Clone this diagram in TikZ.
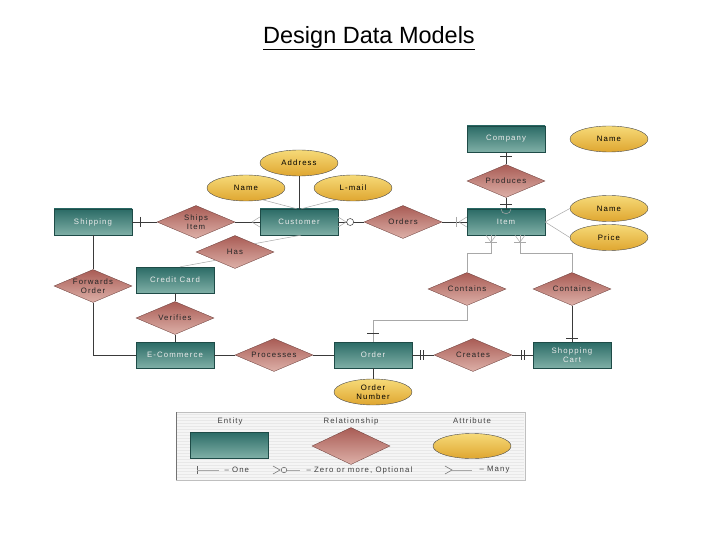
\documentclass[tikz,border=0pt]{standalone}
\usepackage{fontspec}
\setmainfont{Liberation Sans}
\newfontfamily\spacedfont[LetterSpace=14]{Liberation Sans}
\usetikzlibrary{shapes.geometric,calc}
\definecolor{entTop}{HTML}{2B6B66}
\definecolor{entBot}{HTML}{7FAFA6}
\definecolor{relTop}{HTML}{A95C55}
\definecolor{relBot}{HTML}{DDB0A8}
\definecolor{attTop}{HTML}{F6DA78}
\definecolor{attBot}{HTML}{DFA630}
\definecolor{lineDark}{HTML}{3A3A3A}
\definecolor{lineLight}{HTML}{A8A8A8}
\tikzset{
  lab/.style={font=\spacedfont\fontsize{7.8}{8.8}\selectfont, align=center},
  entity/.style={lab, rectangle, minimum width=78pt, minimum height=26pt, inner sep=0pt,
     top color=entTop, bottom color=entBot, draw=entTop!70!black, line width=0.3pt, text=white!92!black},
  rel/.style={lab, diamond, aspect=2.4, minimum width=78pt, minimum height=33pt, inner sep=0pt,
     top color=relTop, bottom color=relBot, draw=relTop!60!black, line width=0.3pt, text=black!85},
  attr/.style={lab, ellipse, minimum width=78pt, minimum height=26pt, inner sep=0pt,
     top color=attTop, bottom color=attBot, draw=black!70, line width=0.4pt, text=black},
  dk/.style={draw=lineDark, line width=0.6pt},
  lt/.style={draw=lineLight, line width=0.5pt},
}
\begin{document}
\begin{tikzpicture}[x=1pt,y=-1pt]
\useasboundingbox (0,0) rectangle (720,540);
\fill[white] (0,0) rectangle (720,540);
% title
\node[font=\fontsize{23.5}{25}\selectfont, inner sep=0pt] (title) at (369,38) {\underline{Design Data Models}};

% entities
\node[entity] (company) at (506,139) {Company};
\node[entity] (shipping) at (93,222) {Shipping};
\node[entity] (customer) at (299,222) {Customer};
\node[entity] (item) at (506,222) {Item};
\node[entity] (credit) at (175,280) {Credit Card};
\node[entity] (ecom) at (175,355) {E-Commerce};
\node[entity] (order) at (373,355) {Order};
\node[entity] (cart) at (572,355) {Shopping\\Cart};

% attributes
\node[attr] (cname) at (609,139) {Name};
\node[attr] (address) at (299,163) {Address};
\node[attr] (custname) at (246,188) {Name};
\node[attr] (email) at (353,188) {L-mail};
\node[attr] (iname) at (609,208.5) {Name};
\node[attr] (price) at (609,237.5) {Price};
\node[attr] (onum) at (373,392) {Order\\Number};

% relationships
\node[rel] (produces) at (506,181) {Produces};
\node[rel] (ships) at (196,222) {Ships\\Item};
\node[rel] (orders) at (403,222) {Orders};
\node[rel] (has) at (235,252) {Has};
\node[rel] (forwards) at (93,286) {Forwards\\Order};
\node[rel] (contains1) at (467,289) {Contains};
\node[rel] (contains2) at (572,289) {Contains};
\node[rel] (verifies) at (175,318) {Verifies};
\node[rel] (processes) at (274,355) {Processes};
\node[rel] (creates) at (473,355) {Creates};

% connectors
\path[dk] (company.south) -- (produces.north);
\path[dk] ($(company.south)+(-6,4)$) -- ++(12,0);
\path[dk] (produces.south) -- (item.north);
\path[dk] ($(item.north)+(-6,-5)$) -- ++(12,0);
\path[lt] ($(item.north)+(-5,0)$) arc[start angle=180, end angle=0, radius=5];

\path[dk] (shipping.east) -- (ships.west);
\path[dk] ($(shipping.east)+(8,-5)$) -- ++(0,10);
\path[dk] (ships.east) -- (customer.west);
\path[lt] ($(customer.west)+(-8,0)$) -- ($(customer.west)+(0,-5)$)
          ($(customer.west)+(-8,0)$) -- ($(customer.west)+(0,5)$);

\path[dk] (customer.east) -- (orders.west);
\path[lt] ($(customer.east)+(8,0)$) -- ($(customer.east)+(0,-5)$)
          ($(customer.east)+(8,0)$) -- ($(customer.east)+(0,5)$);
\path[draw=lineDark, fill=white, line width=0.5pt] ($(customer.east)+(12,0)$) circle[radius=3.5];

\path[dk] (orders.east) -- (item.west);
\path[lt] ($(item.west)+(-11,-5)$) -- ++(0,10);
\path[lt] ($(item.west)+(-8,0)$) -- ($(item.west)+(0,-5)$)
          ($(item.west)+(-8,0)$) -- ($(item.west)+(0,5)$);

\path[lt] (item.east) -- (iname.west);
\path[lt] (item.east) -- (price.west);

\path[dk] (address.south) -- (customer.north);
\path[lt] (custname.-35) -- ($(customer.north)+(-2,0)$);
\path[lt] (email.-145) -- ($(customer.north)+(2,0)$);

\path[lt] ($(customer.south)+(2,0)$) -- (has.north east);
\path[lt] (has.south west) -- ($(credit.north)+(5,0)$);

\path[dk] (shipping.south) -- (forwards.north);
\coordinate (fwdcorner) at (forwards.south |- ecom.west);
\path[dk] (forwards.south) -- (fwdcorner) -- (ecom.west);

\path[dk] (credit.south) -- (verifies.north);
\path[dk] (verifies.south) -- (ecom.north);
\path[dk] (ecom.east) -- (processes.west);
\path[dk] (processes.east) -- (order.west);

\path[dk] (order.east) -- (creates.west);
\path[dk] ($(order.east)+(8,-5)$) -- ++(0,10) ($(order.east)+(11,-5)$) -- ++(0,10);
\path[dk] (creates.east) -- (cart.west);
\path[dk] ($(cart.west)+(-12,-5)$) -- ++(0,10) ($(cart.west)+(-9,-5)$) -- ++(0,10);

\path[dk] (onum.north) -- (order.south);

% item to contains
\coordinate (i1) at ($(item.south)+(-15,0)$);
\coordinate (i2) at ($(item.south)+(14,0)$);
\coordinate (i1b) at ($(i1)+(0,18)$);
\coordinate (i2b) at ($(i2)+(0,18)$);
\path[lt] (i1) -- (i1b) -- (i1b -| contains1.north) -- (contains1.north);
\path[lt] (i2) -- (i2b) -- (i2b -| contains2.north) -- (contains2.north);
\path[lt] ($(i1)+(-6,7)$) -- ++(12,0) ($(i2)+(-6,7)$) -- ++(12,0);
\path[lt] ($(i1)+(0,7)$) -- ($(i1)+(-5,0)$) ($(i1)+(0,7)$) -- ($(i1)+(5,0)$);
\path[lt] ($(i2)+(0,7)$) -- ($(i2)+(-5,0)$) ($(i2)+(0,7)$) -- ($(i2)+(5,0)$);

\coordinate (c1b) at ($(contains1.south)+(0,15)$);
\path[lt] (contains1.south) -- (c1b) -- (c1b -| order.north) -- (order.north);
\path[dk] ($(order.north)+(-6,-9)$) -- ++(12,0);
\path[dk] (contains2.south) -- (cart.north);
\path[dk] ($(cart.north)+(-6,-4)$) -- ++(12,0);

% legend
\path[fill=black!4, draw=black!25, line width=0.4pt] (176,412) rectangle (525,480);
\foreach \yy in {414,417,...,478} { \path[draw=black!9, line width=0.4pt] (177,\yy) -- (524,\yy); }
\path[draw=black!55, line width=0.6pt] (176,412) -- (176,480);
\node[lab, text=black!75] (lgEnt) at (230,421) {Entity};
\node[lab, text=black!75] (lgRel) at (351,421) {Relationship};
\node[lab, text=black!75] (lgAtt) at (472,421) {Attribute};
\node[entity] (lgEntBox) at (229,445) {};
\node[rel, minimum height=37pt] (lgRelBox) at (351,446) {};
\node[attr, minimum height=25pt] (lgAttBox) at (472,446) {};
% notation row
\coordinate (oneA) at (197,470);
\coordinate (oneB) at (219,470);
\path[draw=black!60, line width=0.5pt] ($(oneA)+(0,-4)$) -- ++(0,8);
\path[lt] (oneA) -- (oneB);
\node[lab, anchor=west, text=black!75] (lgOne) at (221,470) {\textendash{} One};
\coordinate (zA) at (273,470);
\coordinate (zB) at (300,470);
\path[draw=black!60, line width=0.5pt] ($(zA)+(0,-4)$) -- ($(zA)+(7,0)$) -- ($(zA)+(0,4)$);
\path[draw=black!60, line width=0.5pt] ($(zA)+(11,0)$) circle[radius=2.8];
\path[lt] ($(zA)+(14,0)$) -- (zB);
\node[lab, anchor=west, text=black!75] (lgZero) at (303,470) {\textendash{} Zero or more, Optional};
\coordinate (mA) at (445,470);
\coordinate (mB) at (472,470);
\path[draw=black!60, line width=0.5pt] ($(mA)+(0,-4)$) -- ($(mA)+(7,0)$) -- ($(mA)+(0,4)$);
\path[lt] ($(mA)+(7,0)$) -- (mB);
\node[lab, anchor=west, text=black!75] (lgMany) at (476,470) {\textendash{} Many};
\end{tikzpicture}
\end{document}
